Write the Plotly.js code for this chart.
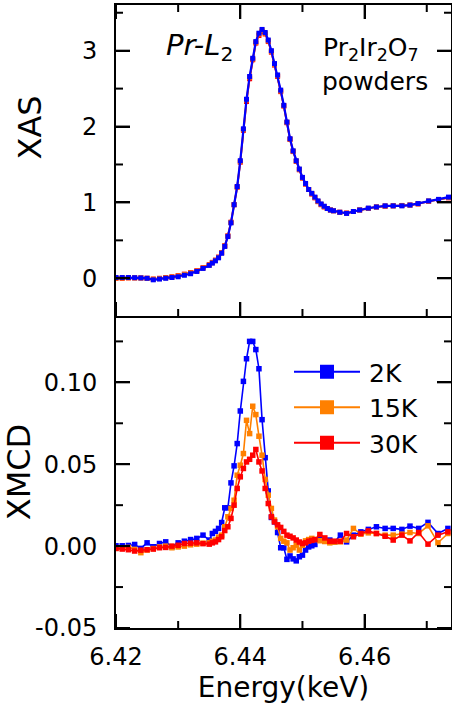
<!DOCTYPE html>
<html><head><meta charset="utf-8">
<script src="https://cdn.plot.ly/plotly-3.0.1.min.js"></script>
<style>html,body{margin:0;padding:0;background:#fff}</style>
</head><body><div id="chart" style="width:452px;height:715px"></div>
<script>
// ---------- DATA ----------
const energyXAS = [
 6.4200,6.4210,6.4220,6.4230,6.4240,6.4250,6.4260,6.4270,6.4280,6.4290,6.4300,6.4310,6.4320,6.4330,6.4340,6.4350,
 6.4355,6.4360,6.4365,6.4370,6.4375,6.4380,6.4385,6.4390,6.4395,6.4400,
 6.4405,6.4410,6.4415,6.4420,6.4425,6.4430,6.4435,6.4440,6.4445,6.4450,
 6.4455,6.4460,6.4465,6.4470,6.4475,6.4480,6.4485,6.4490,6.4495,6.4500,
 6.4505,6.4510,6.4515,6.4520,6.4525,6.4530,6.4535,6.4540,6.4545,6.4550,
 6.4560,6.4571,6.4582,6.4592,6.4606,6.4619,6.4633,6.4646,6.4660,6.4673,6.4686,6.4703,6.4719,6.4735];
const xas2K = [
 0.01,0.01,0.01,0.008,0.005,0.0,-0.02,-0.01,0.0,0.01,0.02,0.04,0.06,0.09,0.13,0.17,
 0.20,0.23,0.27,0.33,0.42,0.55,0.73,0.97,1.21,1.55,
 1.97,2.36,2.66,2.90,3.12,3.23,3.28,3.24,3.14,3.00,
 2.83,2.68,2.48,2.28,2.06,1.84,1.68,1.55,1.44,1.33,
 1.25,1.17,1.12,1.07,1.02,0.98,0.95,0.92,0.90,0.89,
 0.87,0.855,0.88,0.90,0.925,0.94,0.955,0.955,0.955,0.965,0.985,1.02,1.04,1.07];
const xas15K = [
 0.005,0.005,0.008,0.006,0.004,0.0,-0.012,-0.004,0.006,0.016,0.03,0.05,0.07,0.095,0.135,0.175,
 0.205,0.235,0.275,0.335,0.425,0.555,0.735,0.97,1.205,1.54,
 1.96,2.35,2.65,2.89,3.11,3.22,3.27,3.23,3.13,2.99,
 2.82,2.67,2.47,2.275,2.055,1.835,1.675,1.545,1.435,1.325,
 1.245,1.17,1.115,1.065,1.015,0.975,0.945,0.92,0.90,0.89,
 0.87,0.857,0.88,0.90,0.922,0.94,0.953,0.955,0.958,0.965,0.983,1.018,1.038,1.065];
const xas30K = [
 0.0,0.0,0.005,0.005,0.005,0.0,-0.01,0.0,0.01,0.02,0.035,0.055,0.075,0.10,0.14,0.18,
 0.21,0.24,0.28,0.34,0.43,0.56,0.74,0.97,1.20,1.53,
 1.95,2.33,2.63,2.88,3.10,3.20,3.25,3.22,3.12,2.98,
 2.81,2.66,2.46,2.27,2.05,1.83,1.67,1.54,1.43,1.32,
 1.24,1.17,1.11,1.06,1.01,0.97,0.94,0.92,0.90,0.89,
 0.87,0.86,0.88,0.90,0.92,0.94,0.95,0.955,0.96,0.965,0.98,1.015,1.035,1.06];

const energyXMCD = [
 6.4200,6.4210,6.4220,6.4230,6.4240,6.4250,6.4260,6.4270,6.4280,6.4290,6.4300,6.4310,6.4320,6.4330,6.4340,6.4350,
 6.4355,6.4360,6.4365,6.4370,6.4375,6.4380,6.4385,6.4390,6.4395,6.4400,
 6.4405,6.4410,6.4415,6.4420,6.4425,6.4430,6.4435,6.4440,6.4445,6.4450,
 6.4455,6.4460,6.4465,6.4470,6.4475,6.4480,6.4485,6.4490,6.4495,6.4500,
 6.4505,6.4510,6.4515,6.4520,
 6.4528,6.4536,6.4544,6.4552,6.4561,6.4571,6.4582,6.4594,6.4606,6.4619,6.4633,6.4646,6.4660,6.4673,6.4687,6.4702,6.4718,6.4734];
const xmcd2K = [
 0.0002,0.0002,0.0004,0.001,-0.0014,0.002,-0.0004,0.0016,0.0026,-0.0005,0.002,0.003,0.004,0.0047,0.0067,0.0037,
 0.0077,0.009,0.0108,0.0144,0.0234,0.0234,0.0386,0.049,0.0626,0.0825,
 0.1006,0.1144,0.125,0.125,0.12,0.1083,0.0772,0.054,0.0337,0.0175,
 0.0148,0.0083,-0.001,-0.001,-0.0081,-0.006,-0.0078,-0.009,-0.0065,-0.0055,
 -0.0024,-0.0005,0.0002,0.001,
 0.0047,0.003,0.0037,0.0026,0.0067,0.0026,0.0067,0.0087,0.0102,0.0118,0.0108,0.0108,0.0102,0.0122,0.0108,0.0145,0.0077,0.0108];
const xmcd15K = [
 -0.0014,-0.001,-0.0008,-0.002,-0.004,-0.0024,-0.0015,-0.0005,0.0,-0.001,-0.0005,0.0,0.0008,0.0012,0.0018,0.002,
 0.003,0.0037,0.0055,0.0067,0.0118,0.0179,0.023,0.028,0.0433,0.0494,
 0.0565,0.0768,0.0687,0.0854,0.0803,0.0671,0.0555,0.0407,0.0311,0.023,
 0.0159,0.0118,0.0047,0.003,0.002,-0.0024,-0.001,0.0006,-0.0024,0.0005,
 0.0032,0.004,0.0047,0.004,
 0.0033,0.0028,0.002,0.0024,0.0026,0.0037,0.0108,0.0073,0.0081,0.0077,0.0067,0.0067,0.0073,0.0083,0.0077,0.0124,0.002,0.0077];
const xmcd30K = [
 -0.0014,-0.0018,-0.0022,-0.003,-0.0025,-0.0022,-0.0018,-0.001,-0.0008,0.0,0.0005,0.0016,0.0018,0.002,0.0015,0.0012,
 0.002,0.0026,0.004,0.0057,0.0095,0.0118,0.0169,0.025,0.0352,0.0423,
 0.0474,0.0514,0.053,0.0555,0.059,0.0514,0.0459,0.0352,0.026,0.0179,
 0.0148,0.013,0.0114,0.009,0.0067,0.006,0.005,0.0037,0.0025,0.0016,
 0.002,0.003,0.0035,0.004,
 0.0071,0.005,0.003,0.003,0.003,0.0077,0.0057,0.0077,0.0093,0.0077,0.006,0.0037,0.0067,0.0032,0.0083,0.0012,0.0067,0.0087];

const seriesNames = ['2K','15K','30K'];
const seriesColors = ['#0000ff','#ff8000','#ff0000'];

// axis ticks
const xTickVals = [6.42,6.44,6.46];
const xTickText = ['6.42','6.44','6.46'];
const xMinorVals = [6.43,6.45,6.47];
const xasTickVals = [0,1,2,3];
const xasTickText = ['0','1','2','3'];
const xasMinorVals = [0.5,1.5,2.5,3.5];
const xmcdTickVals = [-0.05,0,0.05,0.10];
const xmcdTickText = ['-0.05','0.00','0.05','0.10'];
const xmcdMinorVals = [-0.025,0.025,0.075,0.125];
const xRange = [6.42,6.4739];
const xasRange = [-0.497,3.602];
const xmcdRange = [-0.05,0.1405];

// ---------- LAYOUT GEOMETRY ----------
const W=452,H=715,L=116,R=1,T=5,B=87;
const plotW=W-L-R, plotH=H-T-B;
const px = x => (x-L)/plotW;
const py = y => (H-B-y)/plotH;
const split = py(316);
const FONT = 'DejaVu Sans';
const MAJ = 14, MIN = 7;

const xasY = [xas2K, xas15K, xas30K];
const xmcdY = [xmcd2K, xmcd15K, xmcd30K];

const traces = [];
// top panel (30K and 15K under 2K)
[2,1,0].forEach(i => traces.push({
  x: energyXAS, y: xasY[i], xaxis:'x2', yaxis:'y2', type:'scatter', mode:'lines+markers',
  line:{color:seriesColors[i], width: i===0?2.2:1.8}, marker:{symbol:'square', size:5, color:seriesColors[i]},
  showlegend:false, hoverinfo:'skip'
}));
// bottom panel
[0,1,2].forEach(i => traces.push({
  x: energyXMCD, y: xmcdY[i], xaxis:'x', yaxis:'y', type:'scatter', mode:'lines+markers',
  line:{color:seriesColors[i], width:1.6}, marker:{symbol:'square', size:5.5, color:seriesColors[i]},
  showlegend:false, hoverinfo:'skip'
}));
// legend entries
[0,1,2].forEach(i => traces.push({
  x:[null], y:[null], xaxis:'x', yaxis:'y', type:'scatter', mode:'lines+markers', name: seriesNames[i],
  line:{color:seriesColors[i], width:2}, marker:{symbol:'square', size:14, color:seriesColors[i]},
  showlegend:true
}));

// inward tick marks on every side of both panels, built from the tick arrays
const TICKCOL = '#000000';
const shapes = [];
function tickLine(o){ shapes.push(Object.assign({type:'line', layer:'above', line:{color:TICKCOL, width:2}}, o)); }
function xTicks(xref, yref, yanchor, dir){
  xTickVals.forEach(v => tickLine({xref, yref, x0:v, x1:v, ysizemode:'pixel', yanchor, y0:0, y1:dir*MAJ}));
  xMinorVals.forEach(v => tickLine({xref, yref, x0:v, x1:v, ysizemode:'pixel', yanchor, y0:0, y1:dir*MIN}));
}
function yTicks(xref, yref, major, minor, top){
  [[xRange[0],1],[xRange[1],-1]].forEach(([xa,dir]) => {
    major.forEach(v => tickLine({xref, yref, y0:v, y1:v, xsizemode:'pixel', xanchor:xa, x0:0, x1:dir*MAJ}));
    minor.filter(v => v < top).forEach(v => tickLine({xref, yref, y0:v, y1:v, xsizemode:'pixel', xanchor:xa, x0:0, x1:dir*MIN}));
  });
}
xTicks('x','y', xmcdRange[0], 1);
xTicks('x2','y2', xasRange[0], 1);
xTicks('x2','y2', xasRange[1], -1);
yTicks('x','y', xmcdTickVals, xmcdMinorVals, xmcdRange[1]);
yTicks('x2','y2', xasTickVals, xasMinorVals, xasRange[1]);

const axBase = {
  showline:true, linecolor:'#000', linewidth:2, ticks:'inside', ticklen:MAJ, tickwidth:2, tickcolor:'#000',
  showgrid:false, zeroline:false, tickfont:{family:FONT, size:24, color:'#000'}
};

const layout = {
  width:W, height:H, margin:{l:L, r:R, t:T, b:B, pad:0},
  paper_bgcolor:'#fff', plot_bgcolor:'#fff', showlegend:true,
  font:{family:FONT, color:'#000'},
  xaxis: Object.assign({}, axBase, {
    anchor:'y', domain:[0,1], range:xRange, tickmode:'array', tickvals:xTickVals, ticktext:xTickText,
    mirror:false, ticklabelstandoff:6,
    title:{text:'Energy(keV)', font:{family:FONT, size:28, color:'#000'}, standoff:7}
  }),
  xaxis2: Object.assign({}, axBase, {
    anchor:'y2', domain:[0,1], matches:'x', range:xRange, tickmode:'array', tickvals:xTickVals,
    showticklabels:false, mirror:'ticks'
  }),
  yaxis: Object.assign({}, axBase, {
    anchor:'x', domain:[0, split], range:xmcdRange, tickmode:'array', tickvals:xmcdTickVals, ticktext:xmcdTickText,
    mirror:'ticks', ticklabelstandoff:12,
    title:{text:'XMCD', font:{family:FONT, size:32, color:'#000'}, standoff:2}
  }),
  yaxis2: Object.assign({}, axBase, {
    anchor:'x2', domain:[split,1], range:xasRange, tickmode:'array', tickvals:xasTickVals, ticktext:xasTickText,
    mirror:'ticks', ticklabelstandoff:12
  }),
  legend:{x:px(289), y:py(349), xanchor:'left', yanchor:'top', bgcolor:'rgba(0,0,0,0)', borderwidth:0,
    font:{family:FONT, size:25, color:'#000'}, itemwidth:70, tracegroupgap:0, traceorder:'normal'},
  shapes: shapes,
  annotations:[
    {text:'XAS', xref:'paper', yref:'paper', x:px(29.5), y:py(128), xanchor:'center', yanchor:'middle',
     textangle:-90, showarrow:false, font:{family:FONT, size:32, color:'#000'}},
    {text:'<i>Pr-L</i><sub>2</sub>', xref:'paper', yref:'paper', x:px(164), y:py(47), xanchor:'left', yanchor:'middle',
     showarrow:false, font:{family:FONT, size:29, color:'#000'}},
    {text:'Pr<sub>2</sub>Ir<sub>2</sub>O<sub>7</sub>', xref:'paper', yref:'paper', x:px(321), y:py(49), xanchor:'left', yanchor:'middle',
     showarrow:false, font:{family:FONT, size:25, color:'#000'}},
    {text:'powders', xref:'paper', yref:'paper', x:px(320), y:py(82), xanchor:'left', yanchor:'middle',
     showarrow:false, font:{family:FONT, size:25, color:'#000'}}
  ]
};

Plotly.newPlot('chart', traces, layout, {staticPlot:true, displayModeBar:false}).then(gd => {
  // longer legend lines with the marker in their middle, as in the reference
  gd.querySelectorAll('.legend path.js-line').forEach(p => p.setAttribute('d','M5,0h66'));
  gd.querySelectorAll('.legend path.scatterpts').forEach(p => p.setAttribute('transform','translate(38,0)'));
});
</script></body></html>
